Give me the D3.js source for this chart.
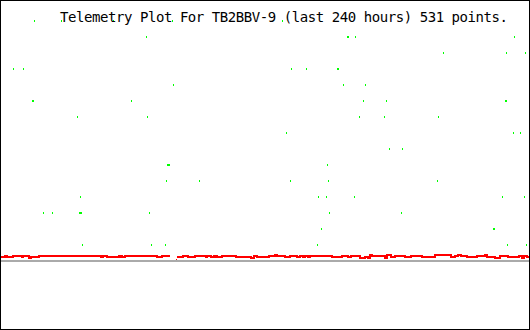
<!DOCTYPE html>
<html>
<head>
<meta charset="utf-8">
<script src="https://cdn.jsdelivr.net/npm/d3@7"></script>
<style>
  html, body { margin: 0; padding: 0; background: #fff; }
  svg { display: block; }
</style>
</head>
<body>
<div id="plot"></div>
<script>
const title = "Telemetry Plot For TB2BBV-9 (last 240 hours) 531 points."

// red channel, value changes (hours, value)
const redHours = [
  0, 1.8, 2.7, 5.5, 9.5, 10.0, 12.7, 13.6, 17.3, 45.5,
  46.4, 48.2, 53.6, 54.1, 54.5, 55.0, 56.4, 70.9, 73.2, 76.8,
  77.0, 80.0, 82.7, 85.0, 88.2, 93.2, 93.6, 95.5, 96.8, 97.3,
  97.7, 98.2, 100.5, 106.8, 113.6, 115.0, 116.4, 121.8, 124.5, 125.5,
  129.1, 131.4, 134.5, 135.9, 137.3, 138.2, 139.5, 140.5, 150.5, 155.0,
  157.7, 159.1, 163.2, 165.5, 166.8, 167.7, 168.6, 174.5, 175.5, 177.3,
  179.1, 183.6, 186.4, 191.4, 197.3, 204.5, 206.4, 207.7, 209.1, 211.8,
  216.4, 220.0, 220.9, 224.5, 226.8, 230.5, 235.5, 236.8, 237.7, 239.1,
  240
]
const redValues = [
  0.25, 0.31, 0.25, 0.31, 0.25, 0.31, 0.19, 0.25, 0.31, 0.25,
  0.31, 0.25, 0.31, 0.25, 0.31, 0.25, 0.31, 0.25, 0.31, 0.31,
  null, 0.25, 0.31, 0.25, 0.31, 0.25, 0.31, 0.25, 0.31, 0.25,
  0.31, 0.25, 0.31, 0.25, 0.19, 0.31, 0.25, 0.31, 0.37, 0.31,
  0.25, 0.31, 0.25, 0.31, 0.25, 0.31, 0.25, 0.31, 0.25, 0.31,
  0.25, 0.31, 0.19, 0.25, 0.19, 0.37, 0.31, 0.19, 0.37, 0.25,
  0.31, 0.25, 0.31, 0.25, 0.37, 0.25, 0.31, 0.37, 0.31, 0.25,
  0.31, 0.37, 0.25, 0.19, 0.31, 0.25, 0.31, 0.19, 0.31, 0.25,
  0.25
]
const redDotHours = [79.5]
const redDotValues = [0.09]

// green channel points
const greenHours = [
  15.0, 27.3, 50.9, 77.7, 127.7,
  65.9, 157.3, 157.7, 160.9, 233.2,
  200.9, 229.5, 238.2,
  5.5, 10.0, 131.8, 138.6, 152.7, 153.2,
  78.2, 155.5, 165.5,
  14.1, 14.5, 59.1, 164.5, 175.0, 229.1, 229.5,
  34.5, 66.4, 162.7, 174.1, 198.6,
  129.5, 232.7, 235.9,
  176.4, 182.3,
  75.5, 75.9, 76.4, 148.2,
  75.0, 90.0, 131.4, 148.6, 198.2,
  35.9, 144.1, 147.7, 160.5, 227.7, 237.7,
  19.1, 23.2, 35.5, 35.9, 36.4, 67.3, 149.1, 181.8,
  145.5, 223.6, 224.1,
  36.8, 68.2, 74.5, 143.6, 230.0, 238.6
]
const greenValues = [
  15, 15, 15, 15, 15,
  14, 14, 14, 14, 14,
  13, 13, 13,
  12, 12, 12, 12, 12, 12,
  11, 11, 11,
  10, 10, 10, 10, 10, 10, 10,
  9, 9, 9, 9, 9,
  8, 8, 8,
  7, 7,
  6, 6, 6, 6,
  5, 5, 5, 5, 5,
  4, 4, 4, 4, 4, 4,
  3, 3, 3, 3, 3, 3, 3, 3,
  2, 2, 2,
  1, 1, 1, 1, 1, 1
]

const width = 530, height = 330

const svg = d3.select("#plot").append("svg")
  .attr("width", width)
  .attr("height", height)
  .attr("shape-rendering", "crispEdges")

svg.append("rect")
  .attr("width", width)
  .attr("height", height)
  .attr("fill", "#fff")

const x = d3.scaleLinear().domain([0, 240]).range([1, 529])
const y = d3.scaleLinear().domain([0, 15]).range([261, 21])

// baseline
svg.append("line")
  .attr("x1", x(0)).attr("x2", x(240))
  .attr("y1", y(0)).attr("y2", y(0))
  .attr("stroke", "#aaaaaa")
  .attr("stroke-width", 2)

const red = redHours.map((h, i) => [h, redValues[i]])
const line = d3.line()
  .defined(d => d[1] !== null)
  .x(d => x(d[0]))
  .y(d => y(d[1]))
  .curve(d3.curveStepAfter)

svg.append("path")
  .datum(red)
  .attr("d", line)
  .attr("fill", "none")
  .attr("stroke", "#ff0000")
  .attr("stroke-width", 2)

svg.selectAll(".reddot")
  .data(redDotHours.map((h, i) => [h, redDotValues[i]]))
  .join("rect")
  .attr("class", "reddot")
  .attr("x", d => Math.round(x(d[0])))
  .attr("y", d => Math.round(y(d[1]) - 0.5))
  .attr("width", 1)
  .attr("height", 1)
  .attr("fill", "#ff0000")

svg.selectAll(".green")
  .data(greenHours.map((h, i) => [h, greenValues[i]]))
  .join("rect")
  .attr("class", "green")
  .attr("x", d => Math.round(x(d[0])))
  .attr("y", d => Math.round(y(d[1])) - 1)
  .attr("width", 1)
  .attr("height", 2)
  .attr("fill", "#00ff00")

svg.append("text")
  .attr("x", 60)
  .attr("y", 22)
  .attr("font-family", "DejaVu Sans Mono, Liberation Mono, monospace")
  .attr("font-size", 14)
  .attr("textLength", title.length * 8)
  .attr("lengthAdjust", "spacing")
  .attr("fill", "#000")
  .text(title)

// frame
svg.append("rect")
  .attr("x", 0.5)
  .attr("y", 0.5)
  .attr("width", width - 1)
  .attr("height", height - 1)
  .attr("fill", "none")
  .attr("stroke", "#000")
  .attr("stroke-width", 1)
</script>
</body>
</html>
